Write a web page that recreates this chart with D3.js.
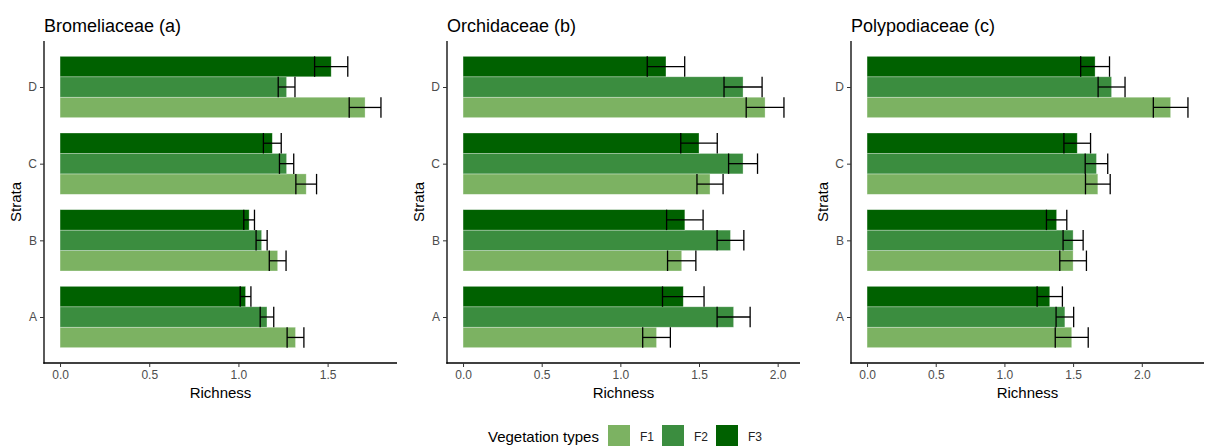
<!DOCTYPE html>
<html>
<head>
    <style>
        body { margin: 0; background: #fff; }
        text { font-family: "Liberation Sans", Arial, sans-serif; }
        .tick text { fill: #4d4d4d; font-size: 12px; }
        .tick line { stroke: #333; }
        .domain { stroke: #000; stroke-width: 1.3px; }
    </style>
    <script src="https://d3js.org/d3.v7.min.js"></script>
</head>
<body>
    <div id="chart"></div>
    <script>
        const width = 1208, height = 446;

        const strata = ["A", "B", "C", "D"];
        const types = ["F1", "F2", "F3"];
        const colors = ["#7cb262", "#3b8d3f", "#006100"];
        const titles = ["Bromeliaceae (a)", "Orchidaceae (b)", "Polypodiaceae (c)"];

        // mean richness per stratum (rows A-D), per vegetation type (F1, F2, F3)
        const bromeliaceaeMean = [[1.32, 1.16, 1.04], [1.22, 1.13, 1.06], [1.38, 1.27, 1.19], [1.71, 1.27, 1.52]];
        const bromeliaceaeSE   = [[0.047, 0.038, 0.03], [0.047, 0.031, 0.03], [0.058, 0.04, 0.05], [0.089, 0.047, 0.093]];
        const orchidaceaeMean  = [[1.23, 1.72, 1.40], [1.39, 1.70, 1.41], [1.57, 1.78, 1.50], [1.92, 1.78, 1.29]];
        const orchidaceaeSE    = [[0.088, 0.105, 0.132], [0.09, 0.085, 0.116], [0.083, 0.092, 0.116], [0.12, 0.121, 0.119]];
        const polypodiaceaeMean = [[1.49, 1.44, 1.33], [1.50, 1.50, 1.38], [1.68, 1.67, 1.53], [2.21, 1.78, 1.66]];
        const polypodiaceaeSE   = [[0.12, 0.064, 0.092], [0.097, 0.073, 0.074], [0.09, 0.082, 0.097], [0.126, 0.098, 0.105]];

        const panels = [
            { means: bromeliaceaeMean, se: bromeliaceaeSE },
            { means: orchidaceaeMean, se: orchidaceaeSE },
            { means: polypodiaceaeMean, se: polypodiaceaeSE }
        ];
        const panelX = [0, 403, 807];

        const svg = d3.select("#chart").append("svg")
            .attr("width", width)
            .attr("height", height);

        const plotTop = 41, plotBottom = 363, plotLeft = 44, plotRight = 397;

        panels.forEach((p, pi) => {
            const g = svg.append("g").attr("transform", `translate(${panelX[pi]},0)`);

            const rows = [];
            strata.forEach((s, si) => types.forEach((t, ti) => {
                rows.push({ stratum: s, type: t, ti: ti, mean: p.means[si][ti], se: p.se[si][ti] });
            }));

            const maxV = d3.max(rows, d => d.mean + d.se);
            const pad = maxV * 0.05;
            const x = d3.scaleLinear().domain([-pad, maxV + pad]).range([plotLeft, plotRight]);

            // discrete axis with ggplot-like 0.6 expansion
            const step = (plotBottom - plotTop) / (strata.length - 1 + 1.2);
            const y = d3.scalePoint().domain(strata.slice().reverse())
                .range([plotTop + 0.6 * step, plotBottom - 0.6 * step]);
            const bandH = step * 0.8;
            const y1 = d3.scaleBand().domain(["F3", "F2", "F1"]).range([-bandH / 2, bandH / 2]);

            g.selectAll(".bar")
                .data(rows)
                .enter().append("rect")
                .attr("x", x(0))
                .attr("y", d => y(d.stratum) + y1(d.type))
                .attr("width", d => x(d.mean) - x(0))
                .attr("height", y1.bandwidth())
                .attr("fill", d => colors[d.ti])
                .attr("stroke", "rgba(255,255,255,0.45)")
                .attr("stroke-width", 0.7);

            const eb = g.selectAll(".err")
                .data(rows)
                .enter().append("g")
                .attr("stroke", "#000")
                .attr("stroke-width", 1.3);
            eb.append("line")
                .attr("x1", d => x(d.mean - d.se)).attr("x2", d => x(d.mean + d.se))
                .attr("y1", d => y(d.stratum) + y1(d.type) + y1.bandwidth() / 2)
                .attr("y2", d => y(d.stratum) + y1(d.type) + y1.bandwidth() / 2);
            eb.append("line")
                .attr("x1", d => x(d.mean - d.se)).attr("x2", d => x(d.mean - d.se))
                .attr("y1", d => y(d.stratum) + y1(d.type))
                .attr("y2", d => y(d.stratum) + y1(d.type) + y1.bandwidth());
            eb.append("line")
                .attr("x1", d => x(d.mean + d.se)).attr("x2", d => x(d.mean + d.se))
                .attr("y1", d => y(d.stratum) + y1(d.type))
                .attr("y2", d => y(d.stratum) + y1(d.type) + y1.bandwidth());

            const xAxis = g.append("g")
                .attr("transform", `translate(0,${plotBottom})`)
                .call(d3.axisBottom(x).tickValues(d3.range(0, maxV, 0.5)).tickFormat(d3.format(".1f")).tickSizeOuter(0).tickSize(4).tickPadding(3));
            xAxis.select(".domain").attr("d", `M${plotLeft - 0.65},0H${plotRight}`);

            const yAxis = g.append("g")
                .attr("transform", `translate(${plotLeft},0)`)
                .call(d3.axisLeft(y).tickSizeOuter(0).tickSize(4).tickPadding(3));
            yAxis.select(".domain").attr("d", `M0,${plotTop}V${plotBottom + 0.65}`);

            g.append("text")
                .attr("x", plotLeft)
                .attr("y", 32)
                .style("font-size", "18px")
                .attr("fill", "#000")
                .text(titles[pi]);

            g.append("text")
                .attr("x", (plotLeft + plotRight) / 2)
                .attr("y", 398)
                .attr("text-anchor", "middle")
                .style("font-size", "15px")
                .text("Richness");

            g.append("text")
                .attr("transform", `translate(21,${(plotTop + plotBottom) / 2}) rotate(-90)`)
                .attr("text-anchor", "middle")
                .style("font-size", "15px")
                .text("Strata");
        });

        // legend
        const legend = svg.append("g");
        legend.append("text")
            .attr("x", 488).attr("y", 442)
            .style("font-size", "15px")
            .text("Vegetation types");
        const keyX = d3.scalePoint().domain(types).range([608, 716]);
        types.forEach((t, i) => {
            legend.append("rect")
                .attr("x", keyX(t)).attr("y", 425)
                .attr("width", 22).attr("height", 21)
                .attr("fill", colors[i]);
            legend.append("text")
                .attr("x", keyX(t) + 32).attr("y", 441)
                .style("font-size", "12px")
                .attr("fill", "#222")
                .text(t);
        });
    </script>
</body>
</html>
